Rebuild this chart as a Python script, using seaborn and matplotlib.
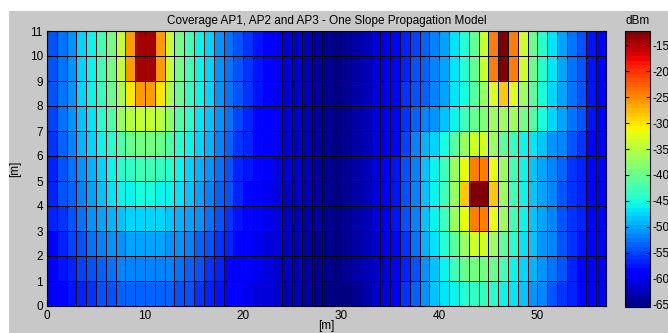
import numpy as np
import pandas as pd
import matplotlib
matplotlib.use("Agg")
import matplotlib.pyplot as plt
from matplotlib.patches import Rectangle
import seaborn as sns

# x cells 0..56 (1 m each), y rows 0..10 (1 m each); values in dBm
x_cells = list(range(57))
y_rows = list(range(11))
x_ticks = [0, 10, 20, 30, 40, 50]
y_ticks = list(range(12))
cbar_ticks = [-65, -60, -55, -50, -45, -40, -35, -30, -25, -20, -15]

row_y10 = [-54, -52.5, -50.5, -47.5, -45.5, -42.5, -39, -34, -26, -14, -14, -26, -34, -39, -42.5, -45.5, -47.5, -50.5, -52.5, -54,
           -56, -57.5, -59, -60, -61, -62, -62.8, -63.5, -64.3, -65, -64.3, -63.3, -62.2, -61, -59.8, -58, -56.5, -55,
           -53.5, -52, -50, -47, -44, -40, -33, -24, -12.3, -24, -33, -40, -44, -47, -50, -52.5, -54.5, -57.5, -59]
row_y9 = [-54, -52.5, -50.5, -47.5, -45.5, -42.5, -39, -34, -26, -14, -14, -26, -34, -39, -42.5, -45.5, -47.5, -50.5, -52.5, -54,
          -56, -57.5, -59, -60, -61, -62, -62.8, -63.5, -64.3, -65, -64.3, -63.3, -62.2, -61, -59.8, -58, -56.5, -54.5,
          -53, -52, -50, -47, -44, -40, -33, -24, -12.3, -24, -33, -40, -44, -47, -50, -52.5, -54.5, -57.5, -59]
row_y8 = [-54, -52.5, -50.5, -47.5, -46, -43.5, -40, -36, -30, -26, -26, -30, -36, -40, -43.5, -46, -47.5, -50.5, -52.5, -54.5,
          -56, -57.5, -59, -60, -61, -62, -62.8, -63.5, -64.3, -65, -64.3, -63.3, -62.2, -61, -59.8, -58, -56, -54.5,
          -53, -51.5, -50, -47, -45, -41, -37, -32.5, -28.5, -32.5, -37, -41, -45, -47.5, -50, -52.5, -54.5, -57.5, -59]
row_y7 = [-55, -52.5, -51, -48, -46.5, -44, -42, -37, -35, -34, -34, -35, -37.5, -42, -44, -46.5, -48, -51, -52.5, -55,
          -56.5, -58, -59, -60, -61, -62, -62.8, -63.5, -64.3, -65, -64.3, -63.3, -62.2, -61, -59.8, -58, -55.5, -53,
          -51.5, -50.5, -48, -45.5, -42.5, -40, -38, -37, -37, -37, -39, -42, -45, -47.5, -50, -52.5, -54.5, -57.5, -59]
row_y6 = [-55.5, -53.5, -51.5, -49.5, -47.5, -46, -44, -42, -40, -39, -39, -40, -42, -44, -46, -47.5, -49.5, -51.5, -53.5, -55.5,
          -57, -58, -59.3, -60.2, -61, -62, -62.8, -63.5, -64.3, -65, -64.3, -63.3, -62.2, -61, -59.8, -58, -55, -51.5,
          -49.5, -47.5, -45, -41, -37, -33, -33, -37, -41, -43.5, -45.5, -47, -48.5, -50.5, -52, -54, -56, -58, -59]
row_y5 = [-56.5, -54.5, -52.5, -50.5, -49, -47.5, -46, -44, -43, -42.5, -42.5, -43, -44, -46, -47.5, -49, -50.5, -52.5, -54.5, -56.5,
          -57.5, -58.5, -59.5, -60.5, -61.2, -62, -62.8, -63.5, -64.3, -65, -64.3, -63.3, -62.2, -61, -59.5, -57.5, -54.5, -51.5,
          -48.5, -45.5, -42.5, -37, -32, -24, -24, -32, -37, -42.5, -45.5, -48, -50, -51.5, -53.5, -55.5, -56.5, -58.5, -59.5]
row_y4 = [-56.5, -54.5, -53.5, -51.5, -50, -48.5, -47, -46, -45.5, -45, -45, -45.5, -46, -47, -48.5, -50, -51.5, -53.5, -54.5, -57,
          -58, -59, -60, -60.7, -61.3, -62, -62.8, -63.5, -64.3, -65, -64.3, -63.3, -62.2, -61, -59.5, -57.5, -54.5, -51.5,
          -48.5, -45.5, -42.5, -37, -28.5, -12.5, -12.5, -28.5, -37, -42.5, -45.5, -48, -50, -52, -54, -55.5, -57, -58.5, -59.5]
row_y3 = [-57, -55.5, -54, -52.5, -51, -50, -49, -48, -47.5, -47.5, -47.5, -47.5, -48, -49, -50, -51, -52.5, -54, -55.5, -57.5,
          -58.5, -59.3, -60.2, -61, -61.5, -62.2, -63, -63.7, -64.4, -65, -64.4, -63.4, -62.3, -61.2, -59.8, -57.5, -54.5, -51.5,
          -48.5, -45.5, -42.5, -37, -32, -24, -24, -32, -37, -42.5, -45.5, -48, -50, -52, -54, -55.5, -57, -58.5, -59.5]
row_y2 = [-58, -56.5, -55, -54, -52.5, -51.5, -51, -50.5, -50, -50, -50, -50, -50.5, -51, -52, -53, -54, -55.5, -56.5, -58.5,
          -59, -59.7, -60.5, -61.2, -61.8, -62.4, -63.1, -63.8, -64.5, -65, -64.5, -63.6, -62.6, -61.5, -60.2, -58, -55.5, -52.5,
          -49.5, -46.5, -44, -41, -37, -33, -33, -37, -41, -44, -46.5, -48.5, -50.5, -52, -54, -56, -57.5, -58.5, -59.5]
row_y1 = [-59, -57.5, -56.5, -55, -54, -53, -52.5, -52, -51.5, -51.5, -51.5, -51.5, -52, -52.5, -53.5, -54.5, -55.5, -57, -58, -59,
          -59.5, -60.2, -60.8, -61.5, -62, -62.6, -63.2, -63.9, -64.5, -65, -64.5, -63.7, -62.8, -61.8, -60.6, -58.5, -56.5, -54,
          -51, -48, -45.5, -42.5, -40, -39, -39, -40, -42.5, -45.5, -47.5, -49.5, -51, -52.5, -54.5, -56.5, -58, -59, -60]
row_y0 = [-59.5, -58.5, -57.5, -56.5, -55.5, -54.5, -54, -53.5, -53, -53, -53, -53, -53.5, -54, -54.5, -55.5, -56.5, -57.5, -58.5, -59.5,
          -60, -60.5, -61.2, -61.8, -62.3, -62.8, -63.4, -64, -64.6, -65.2, -64.6, -63.8, -63, -62, -61, -59, -56, -53.5,
          -50.5, -48.5, -47, -45.5, -44, -43.5, -43.5, -44, -46, -47, -48.5, -50.5, -52, -54, -55.5, -57, -58.5, -59.5, -60]

rows_bottom_up = [row_y0, row_y1, row_y2, row_y3, row_y4, row_y5,
                  row_y6, row_y7, row_y8, row_y9, row_y10]
df = pd.DataFrame(rows_bottom_up, index=y_rows, columns=x_cells)

plt.rcParams['font.family'] = ['Liberation Sans', 'DejaVu Sans']
plt.rcParams['axes.unicode_minus'] = False

W, H = 668, 333
fig = plt.figure(figsize=(W / 100, H / 100), dpi=100, facecolor='white')
fig.add_artist(Rectangle((9 / W, 0), 1, (H - 11) / H, transform=fig.transFigure,
                         facecolor='#c8c8c8', edgecolor='none', zorder=-5))

ax = fig.add_axes([47 / W, 27 / H, 559 / W, 275 / H])
cax = fig.add_axes([625 / W, 26 / H, 25 / W, 276.5 / H])

cmap = plt.get_cmap('jet', 64)
sns.heatmap(df, ax=ax, cbar_ax=cax, cmap=cmap, vmin=-65.4, vmax=-12.2,
            linewidths=0.6, linecolor='black',
            xticklabels=False, yticklabels=False)

ax.set_xlim(0, 57)
ax.set_ylim(0, 11)
ax.set_xticks(x_ticks)
ax.set_xticklabels([str(v) for v in x_ticks])
ax.set_yticks(y_ticks)
ax.set_yticklabels([str(v) for v in y_ticks], rotation=0)
for s in ax.spines.values():
    s.set_visible(True)
    s.set_color('black')
    s.set_linewidth(0.8)
ax.tick_params(direction='in', length=3, top=True, right=True,
               labelsize=8.5, pad=3, colors='black')
ax.set_xlabel('[m]', fontsize=8.5, labelpad=-1.5)
ax.set_ylabel('[m]', fontsize=8.5, labelpad=6)
ax.set_title('Coverage AP1, AP2 and AP3 - One Slope Propagation Model',
             fontsize=8.5, pad=5)

cb = ax.collections[0].colorbar
cb.outline.set_linewidth(0.8)
cb.outline.set_edgecolor('black')
cb.set_ticks(cbar_ticks)
cb.set_ticklabels([str(v) for v in cbar_ticks])
cax.tick_params(direction='in', length=3, left=True, right=True,
                labelsize=8.5, pad=1.5)
cax.set_title('dBm', fontsize=8.5, pad=5)

fig.savefig('out.png', dpi=100, facecolor=fig.get_facecolor())
